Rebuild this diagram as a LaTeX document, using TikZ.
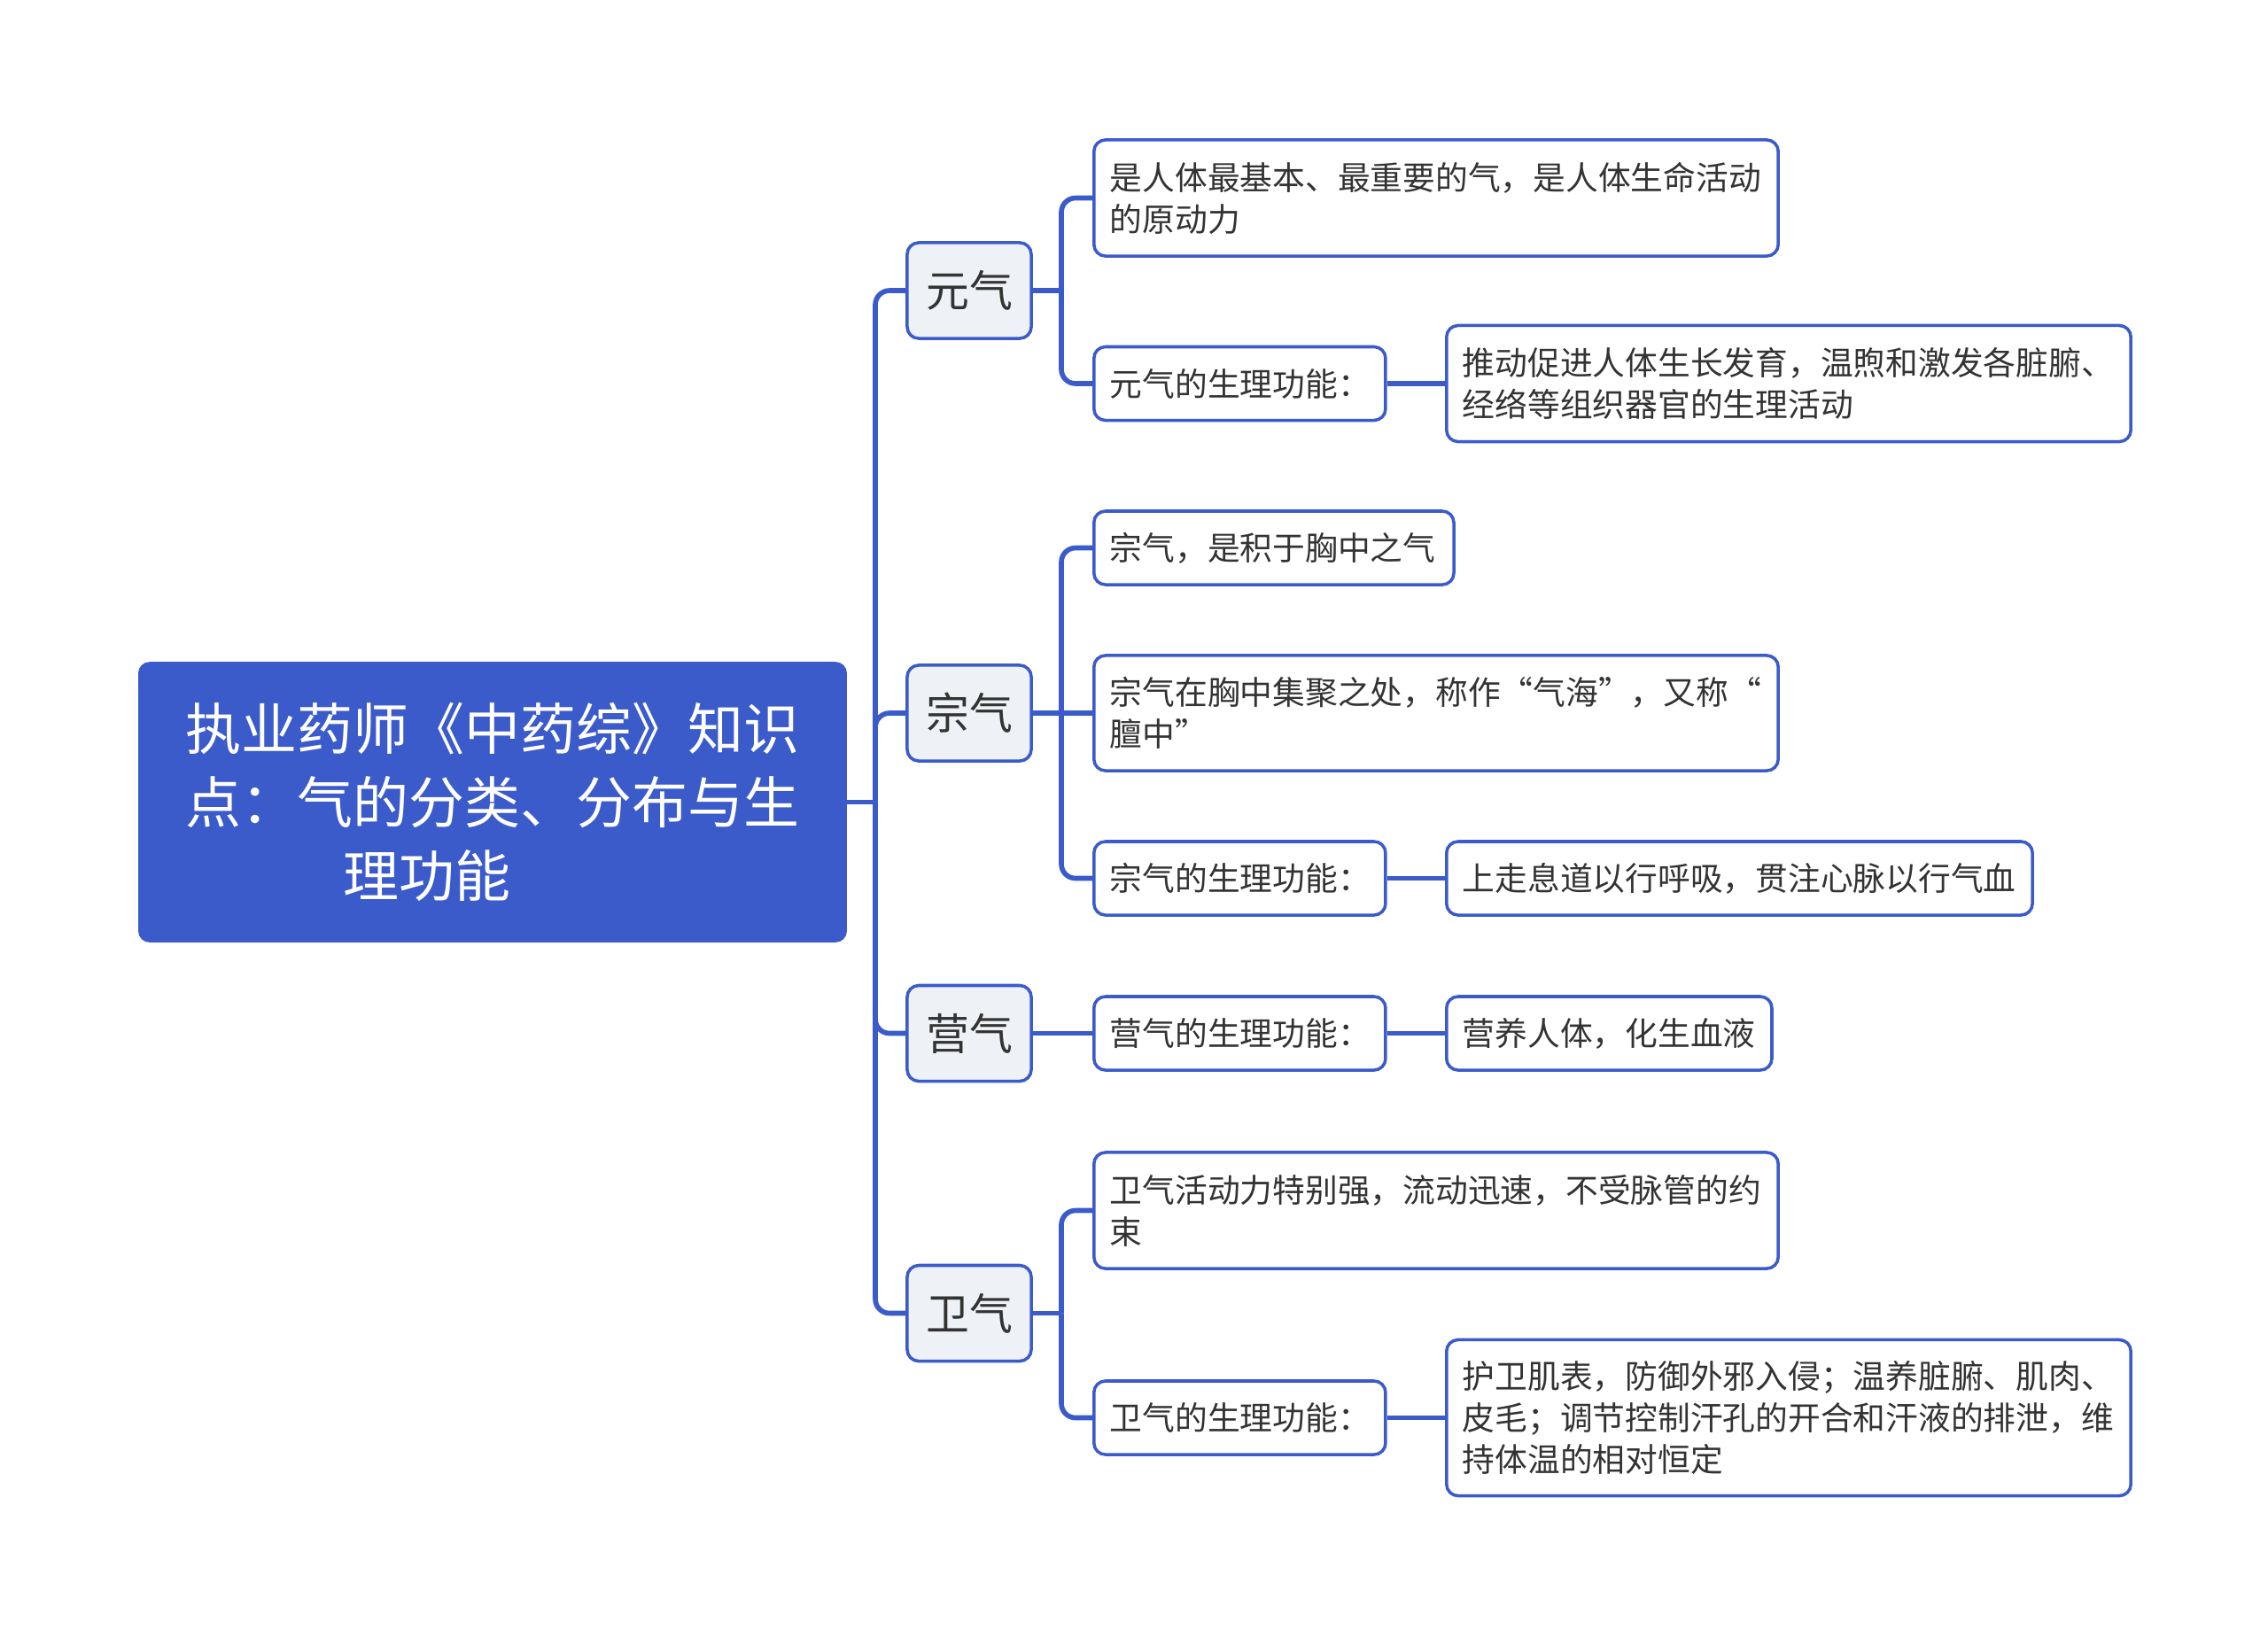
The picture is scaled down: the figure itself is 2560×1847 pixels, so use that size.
\documentclass[tikz,border=0pt]{standalone}
\usepackage{fontspec}
\setmainfont{Noto Sans CJK SC}
\usetikzlibrary{positioning,calc}
\definecolor{mapblue}{RGB}{59,91,203}
\definecolor{mapgrey}{RGB}{238,241,246}
\definecolor{maptext}{RGB}{51,51,51}

\begin{document}
\begin{tikzpicture}[x=0.01cm, y=-0.01cm]
  \tikzset{
    link/.style={draw=mapblue, line width=1.6pt, rounded corners=0.16cm},
    rootbox/.style={fill=mapblue, draw=mapblue, rounded corners=0.12cm, text=white, align=center,
      text width=7.62cm, inner xsep=0.18cm, minimum height=3.15cm, font=\fontsize{17.9}{23.7}\selectfont},
    qibox/.style={fill=mapgrey, draw=mapblue, line width=1pt, rounded corners=0.13cm, text=maptext,
      minimum width=1.4cm, minimum height=1.08cm, font=\fontsize{13.9}{16}\selectfont},
    leaf/.style={draw=mapblue, line width=1pt, fill=white, rounded corners=0.13cm, text=maptext, anchor=west,
      align=left, inner xsep=0.18cm, minimum height=0.83cm, font=\fontsize{10.45}{13.4}\selectfont}
  }
  \useasboundingbox (0,0) rectangle (2560,1847);

  % root and first level
  \node[rootbox] (root) at (556,905.5) {执业药师《中药综》知识\\点：气的分类、分布与生\\理功能\rule{1.48cm}{0pt}};
  \node[qibox] (yuan) at (1094,328) {元气};
  \node[qibox] (zong) at (1094,805) {宗气};
  \node[qibox] (ying) at (1094,1166.5) {营气};
  \node[qibox] (wei)  at (1094,1482.5) {卫气};
  \coordinate (trunk) at (988,905.5);
  \draw[link] (root.east) -- (trunk);
  \foreach \q in {yuan,zong,ying,wei}
    \draw[link] (trunk) |- (\q.west);

  % yuan qi
  \node[leaf, text width=7.36cm, minimum height=1.31cm] (yuan1) at (1233,223.5) {是人体最基本、最重要的气，是人体生命活动\\的原动力};
  \node[leaf, text width=2.93cm] (yuan2) at (1233,433) {元气的生理功能：};
  \node[leaf, text width=7.36cm, minimum height=1.31cm] (yuan2x) at (1631,433) {推动促进人体生长发育，温煦和激发各脏腑、\\经络等组织器官的生理活动};
  \coordinate (yuanj) at (1198,328);
  \draw[link] (yuan.east) -- (yuanj);
  \foreach \c in {yuan1,yuan2}
    \draw[link] (yuanj) |- (\c.west);
  \draw[link] (yuan2.east) -- (yuan2x.west);

  % zong qi
  \node[leaf, text width=3.7cm] (zong1) at (1233,618.5) {宗气，是积于胸中之气};
  \node[leaf, text width=7.36cm, minimum height=1.3cm] (zong2) at (1233,805) {宗气在胸中集聚之处，称作“气海”，又称“\\膻中”};
  \node[leaf, text width=2.93cm] (zong3) at (1233,991.5) {宗气的生理功能：};
  \node[leaf, text width=6.25cm] (zong3x) at (1631,991.5) {上走息道以行呼吸，贯注心脉以行气血};
  \coordinate (zongj) at (1198,805);
  \draw[link] (zong.east) -- (zong2.west);
  \foreach \c in {zong1,zong3}
    \draw[link] (zongj) |- (\c.west);
  \draw[link] (zong3.east) -- (zong3x.west);

  % ying qi
  \node[leaf, text width=2.93cm] (ying1) at (1233,1166.5) {营气的生理功能：};
  \node[leaf, text width=3.31cm] (ying1x) at (1631,1166.5) {营养人体，化生血液};
  \draw[link] (ying.east) -- (ying1.west);
  \draw[link] (ying1.east) -- (ying1x.west);

  % wei qi
  \node[leaf, text width=7.36cm, minimum height=1.31cm] (wei1) at (1233,1366.5) {卫气活动力特别强，流动迅速，不受脉管的约\\束};
  \node[leaf, text width=2.93cm] (wei2) at (1233,1600.5) {卫气的生理功能：};
  \node[leaf, text width=7.36cm, minimum height=1.76cm] (wei2x) at (1631,1600.5) {护卫肌表，防御外邪入侵；温养脏腑、肌肉、\\皮毛；调节控制汗孔的开合和汗液的排泄，维\\持体温的相对恒定};
  \coordinate (weij) at (1198,1482.5);
  \draw[link] (wei.east) -- (weij);
  \foreach \c in {wei1,wei2}
    \draw[link] (weij) |- (\c.west);
  \draw[link] (wei2.east) -- (wei2x.west);
\end{tikzpicture}
\end{document}
